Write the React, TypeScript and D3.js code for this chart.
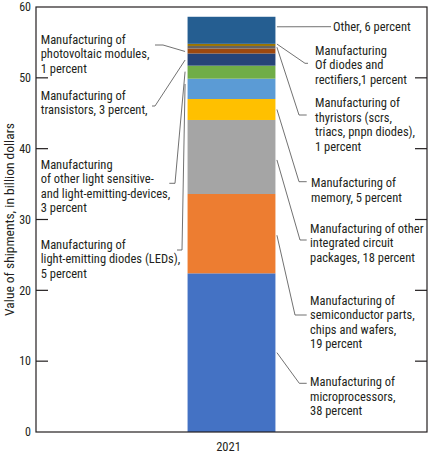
import React from "react";
import * as d3 from "d3";

const W = 429;
const H = 454;
const margin = { left: 36, right: 2, top: 7, bottom: 22 };

const years = ["2021"];
const segmentNames = [
  "Manufacturing of microprocessors",
  "Manufacturing of semiconductor parts, chips and wafers",
  "Manufacturing of other integrated circuit packages",
  "Manufacturing of memory",
  "Manufacturing of light-emitting diodes (LEDs)",
  "Manufacturing of other light sensitive- and light-emitting-devices",
  "Manufacturing of transistors",
  "Manufacturing of photovoltaic modules",
  "Manufacturing of thyristors (scrs, triacs, pnpn diodes)",
  "Manufacturing of diodes and rectifiers",
  "Other",
];
const segmentValues = [22.4, 11.2, 10.45, 2.96, 2.87, 1.84, 1.72, 0.7, 0.36, 0.3, 3.82];
const segmentColors = [
  "#4472C4", "#ED7D31", "#A5A5A5", "#FFC000", "#5B9BD5", "#70AD47",
  "#264478", "#9E480E", "#636363", "#997300", "#255E91",
];
const yTicks = [0, 10, 20, 30, 40, 50, 60];
const yTitle = "Value of shipments, in billion dollars";

// label text lines, side, segment index, anchor fraction in segment
const labelLines = [
  ["Manufacturing of", "microprocessors,", "38 percent"],
  ["Manufacturing of", "semiconductor parts,", "chips and wafers,", "19 percent"],
  ["Manufacturing of other", "integrated circuit", "packages, 18 percent"],
  ["Manufacturing of", "memory, 5 percent"],
  ["Manufacturing of", "light-emitting diodes (LEDs),", "5 percent"],
  ["Manufacturing", "of other light sensitive-", "and light-emitting-devices,", "3 percent"],
  ["Manufacturing of", "transistors, 3 percent,"],
  ["Manufacturing of", "photovoltaic modules,", "1 percent"],
  ["Manufacturing of", "thyristors (scrs,", "triacs, pnpn diodes),", "1 percent"],
  ["Manufacturing", "Of diodes and", "rectifiers,1 percent"],
  ["Other, 6 percent"],
];
const labelSide = ["R", "R", "R", "R", "L", "L", "L", "L", "R", "R", "R"];
const anchorFrac = [0.5, 0.48, 0.46, 0.5, 0.74, 0.54, 0.46, 0.4, 0.5, 0.9, 0.63];
// layout: text first-line y, text x, stub y, elbow x, stub end x
const labelTop = [381.7, 300, 228.3, 182.7, 244, 164, 95, 39, 102.7, 50, 26.7];
const labelX = [310, 310, 310, 311, 40.7, 40.7, 40.7, 40.7, 315, 315, 333];
const stubY = [383.3, 315, 240, 181.7, 250, 183.3, 106, 45, 115, 63.3, 26.7];
const elbowX = [299.3, 295, 300, 299, 182, 175, 155, 163, 299, 305, 331];
const stubEndX = [306.7, 306.7, 306.7, 306.7, 177, 169.3, 152, 155, 306.7, 308, 331];

const FONT = "'Liberation Sans Narrow', 'Arial Narrow', 'Roboto Condensed', sans-serif";

export default function App() {
  const x = d3
    .scaleBand<string>()
    .domain(years)
    .range([margin.left, W - margin.right])
    .paddingInner(0.633)
    .paddingOuter(0.633);
  const y = d3.scaleLinear().domain([0, 60]).range([H - margin.bottom, margin.top]);

  const cum: number[] = [];
  segmentValues.reduce((acc, v) => {
    cum.push(acc);
    return acc + v;
  }, 0);

  const bx = x("2021") as number;
  const bw = x.bandwidth();
  const left = margin.left;
  const right = W - margin.right;
  const top = margin.top;
  const bottom = H - margin.bottom;
  const lineH = 14.6;

  return (
    <div style={{ position: "absolute", left: 0, top: 0 }}>
      <svg width={W} height={H} style={{ display: "block", background: "#fff" }} fontFamily={FONT}>
        {segmentValues.map((v, i) => (
          <rect
            key={i}
            x={bx}
            width={bw}
            y={y(cum[i] + v)}
            height={y(cum[i]) - y(cum[i] + v)}
            fill={segmentColors[i]}
          />
        ))}
        {/* frame */}
        <rect x={left} y={top} width={right - left} height={bottom - top} fill="none" stroke="#231f20" strokeWidth={1.2} />
        {yTicks.map((t) => (
          <g key={t}>
            {t > 0 && t < 60 && (
              <>
                <line x1={left} x2={left + 12} y1={y(t)} y2={y(t)} stroke="#231f20" strokeWidth={1.2} />
                <line x1={right - 12} x2={right} y1={y(t)} y2={y(t)} stroke="#231f20" strokeWidth={1.2} />
              </>
            )}
            <text x={31} y={y(t)} dy="0.36em" textAnchor="end" fontSize={12} fill="#231f20">
              {t}
            </text>
          </g>
        ))}
        <text
          transform={`translate(9.5,${(top + bottom) / 2}) rotate(-90)`}
          textAnchor="middle"
          dy="0.36em"
          fontSize={13.5}
          fill="#231f20"
        >
          {yTitle}
        </text>
        <text x={bx + bw / 2 - 3} y={446} dy="0.36em" textAnchor="middle" fontSize={12.5} fill="#231f20">
          {years[0]}
        </text>
        {labelLines.map((lines, i) => {
          const side = labelSide[i];
          const ya = y(cum[i] + segmentValues[i] * anchorFrac[i]);
          const ax = side === "R" ? bx + bw + 1.5 : bx - 2.5;
          const pts: [number, number][] = [
            [ax, ya],
            [elbowX[i], stubY[i]],
            [stubEndX[i], stubY[i]],
          ];
          return (
            <g key={i}>
              <path d={d3.line()(pts) as string} fill="none" stroke="#4d4d4d" strokeWidth={0.8} />
              {lines.map((l, j) => (
                <text key={j} x={labelX[i]} y={labelTop[i] + j * lineH} dy="0.36em" fontSize={12.5} fill="#231f20">
                  {l}
                </text>
              ))}
            </g>
          );
        })}
      </svg>
    </div>
  );
}
